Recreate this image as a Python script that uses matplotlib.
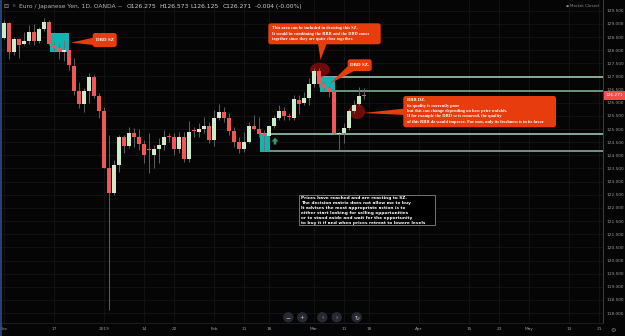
import numpy as np
import matplotlib.pyplot as plt
from matplotlib.patches import Rectangle, FancyBboxPatch, Polygon, Ellipse, Circle

BG = "#050505"
GREEN = "#cdebc8"
RED = "#f05858"
WICK = "#6e6e6e"
CYAN = "#12b3b1"
CALLOUT = "#e63c0e"
GRID = "#141414"
AXIS_TXT = "#9b9b9b"

# EUR/JPY daily, OANDA (Dec 3 2018 .. Mar 15 2019)
opens = [128.48, 129.04, 127.94, 128.42, 128.22, 128.35, 128.70, 128.35, 128.80, 129.07,
         128.20, 128.07, 127.92, 127.99, 127.41, 126.46, 125.95, 126.46, 126.97, 126.26,
         125.69, 123.53, 122.58, 123.63, 124.71, 124.37, 124.84, 124.69, 124.43, 124.21,
         124.01, 124.24, 124.39, 124.72, 124.69, 124.24, 124.71, 123.86, 124.94, 124.90,
         125.00, 125.13, 124.58, 125.43, 125.63, 125.41, 124.93, 124.51, 124.24, 124.51,
         125.12, 125.00, 124.81, 124.75, 125.10, 125.41, 125.68, 125.50, 125.43, 126.10,
         125.98, 126.19, 126.71, 127.22, 126.71, 126.55, 126.42, 124.83, 124.84, 125.05,
         125.70, 125.95, 126.275]
highs = [129.15, 129.07, 128.51, 128.45, 128.70, 128.96, 128.99, 128.89, 129.22, 129.15,
         128.32, 128.22, 128.39, 128.00, 127.71, 126.78, 126.55, 127.12, 127.06, 126.36,
         125.85, 124.77, 123.82, 124.77, 124.77, 125.09, 125.03, 124.99, 124.58, 124.86,
         124.39, 124.65, 124.96, 124.85, 124.84, 124.90, 124.90, 125.32, 125.09, 125.24,
         125.47, 125.28, 125.72, 125.95, 125.85, 125.60, 125.09, 124.71, 124.90, 125.28,
         125.53, 125.45, 124.96, 125.15, 125.55, 125.93, 125.85, 125.60, 126.30, 126.30,
         126.40, 126.93, 127.31, 127.31, 126.80, 126.61, 126.49, 124.90, 125.22, 125.75,
         126.10, 126.61, 126.573]
lows = [128.42, 127.65, 127.82, 127.71, 128.20, 128.22, 128.20, 128.26, 128.73, 128.20,
        127.94, 127.66, 127.59, 127.25, 126.30, 125.81, 125.66, 126.00, 126.19, 125.41,
        123.51, 118.12, 122.49, 123.38, 124.08, 124.27, 124.33, 124.20, 123.72, 123.34,
        123.51, 123.70, 124.20, 124.52, 124.01, 124.08, 123.76, 123.76, 124.71, 124.69,
        124.84, 124.46, 124.36, 125.34, 125.28, 124.77, 124.33, 124.10, 124.14, 124.46,
        124.96, 124.71, 124.17, 124.71, 125.04, 125.34, 125.34, 125.34, 125.34, 125.56,
        125.91, 125.91, 126.61, 126.61, 126.42, 126.23, 124.81, 124.20, 124.46, 124.96,
        125.60, 125.91, 126.125]
closes = [129.04, 127.94, 128.42, 128.20, 128.35, 128.70, 128.35, 128.80, 129.07, 128.22,
          128.07, 127.92, 127.99, 127.44, 126.46, 125.95, 126.46, 126.97, 126.26, 125.69,
          123.53, 122.58, 123.63, 124.71, 124.37, 124.84, 124.71, 124.43, 124.01, 124.19,
          124.23, 124.39, 124.71, 124.70, 124.24, 124.71, 123.86, 124.90, 124.91, 125.00,
          125.13, 124.58, 125.43, 125.63, 125.42, 124.93, 124.51, 124.24, 124.51, 125.12,
          125.00, 124.81, 124.75, 125.10, 125.41, 125.68, 125.50, 125.45, 126.13, 125.95,
          126.19, 126.70, 127.22, 126.71, 126.55, 126.42, 124.84, 124.86, 125.05, 125.70,
          125.91, 126.26, 126.271]

date_ticks = [0, 10, 20, 28, 34, 42, 48, 53, 62, 68, 73, 83, 93, 99, 105, 113, 119]
date_labels = ["Dec", "17", "2019", "14", "22", "Feb", "11", "18", "Mar", "11", "18",
               "Apr", "15", "23", "May", "13", "21"]
price_ticks = np.arange(118.0, 129.51, 0.5)

# supply / demand zones: (first bar, last bar, top, bottom)
dbd_dec = (9.2, 13.06, 128.64, 127.94)
dbd_mar = (63.2, 66.2, 126.968, 126.458)
rbr_feb = (51.1, 53.2, 124.83, 124.155)
last_price = 126.271

o, h, l, c = map(np.array, (opens, highs, lows, closes))
idx = np.arange(len(o))

fig = plt.figure(figsize=(6.25, 3.36), dpi=100, facecolor=BG)
ax = fig.add_axes([0, 13 / 336, 603 / 625, 323 / 336])
ax.set_facecolor(BG)
ax.set_xlim(-0.8, 119.8)
ax.set_ylim(117.625, 129.907)

for p in price_ticks:
    ax.axhline(p, color=GRID, lw=0.6, zorder=0)
for d in date_ticks:
    ax.axvline(d, color=GRID, lw=0.6, zorder=0)

# zones
for x0, x1, top, bot in (dbd_mar, rbr_feb):
    ax.hlines([top], x0, 119.8, color="#a9d6c0", lw=1.1, zorder=1)
    ax.hlines([bot], x0, 119.8, color="#6f9483", lw=1.4, zorder=1)
for x0, x1, top, bot in (dbd_dec, dbd_mar, rbr_feb):
    ax.add_patch(Rectangle((x0, bot), x1 - x0, top - bot, fc=CYAN, ec="none", zorder=1.5))

ax.add_patch(Ellipse((63.2, 127.257), 4.0, 0.53, fc="#6e0b0b", ec="none", zorder=1.6))
ax.add_patch(Ellipse((70.6, 125.667), 3.3, 0.57, fc="#6e0b0b", ec="none", zorder=1.6))

# candles
up = c >= o
ax.vlines(idx, l, h, color=WICK, lw=0.6, zorder=2)
ax.bar(idx, np.maximum(np.abs(c - o), 0.035), bottom=np.minimum(o, c), width=0.64,
       color=np.where(up, GREEN, RED), linewidth=0, zorder=3)

ax.yaxis.tick_right()
ax.set_yticks(price_ticks)
ax.set_yticklabels([f"{p:.3f}" for p in price_ticks])
ax.set_xticks(date_ticks)
ax.set_xticklabels(date_labels)
ax.tick_params(axis="both", length=0, labelsize=3.1, colors=AXIS_TXT)
ax.tick_params(axis="y", pad=2.5)
ax.tick_params(axis="x", pad=3)
for s in ("top", "left"):
    ax.spines[s].set_visible(False)
ax.spines["right"].set_color("#3a3e48")
ax.spines["bottom"].set_color("#1f2128")
ax.spines["right"].set_linewidth(0.7)
ax.spines["bottom"].set_linewidth(0.6)

# overlay in pixel units for drawings / UI
ov = fig.add_axes([0, 0, 1, 1], zorder=5)
ov.set_xlim(0, 625)
ov.set_ylim(336, 0)
ov.axis("off")
ov.patch.set_alpha(0)

ov.plot([0.6, 0.6], [0, 336], color="#2a4f85", lw=1.2)

serif = dict(family="Liberation Serif", weight="bold", color="white")


def callout(x0, y0, x1, y1, tail):
    ov.add_patch(FancyBboxPatch((x0, y0), x1 - x0, y1 - y0,
                                boxstyle="round,pad=0,rounding_size=2.5",
                                fc=CALLOUT, ec="none"))
    ov.add_patch(Polygon(tail, closed=True, fc=CALLOUT, ec="none"))


callout(92.7, 33, 116.7, 47, [(94, 37.5), (94, 45), (71, 42.7)])
ov.text(104.7, 40.3, "DBD SZ", fontsize=3.6, ha="center", va="center", **serif)

callout(268.3, 23.3, 380.7, 44.3, [(318, 43), (327, 43), (320.5, 60)])
for k, s in enumerate(["This area can be included in drawing this SZ.",
                       "It would be combining the RBR and the DBD zones",
                       "together since they are quite close together."]):
    ov.text(272, 28.3 + 5.5 * k, s, fontsize=3.15, va="center", **serif)

callout(347.7, 59.3, 371.7, 71, [(349, 65), (355, 70.5), (330, 83.5)])
ov.text(359.7, 65.3, "DBD SZ.", fontsize=3.6, ha="center", va="center", **serif)

callout(403.3, 96, 556, 127.3, [(405, 108.5), (405, 115), (363, 113)])
for k, s in enumerate(["RBR DZ.",
                       "its quality is currently poor",
                       "but this can change depending on how price unfolds.",
                       "If for example the DBD sz is removed, the quality",
                       "of this RBR dz would improve. For now, only its freshness is in its favor"]):
    ov.text(407, 100.3 + 5.3 * k, s, fontsize=3.25, va="center", **serif)

ov.add_patch(Rectangle((299.3, 195), 135.7, 30, fc="black", ec="#a0a0a0", lw=0.5))
for k, s in enumerate(["Prices have reached and are reacting to SZ.",
                       "The decision matrix does not allow me to buy",
                       "It advises the most appropriate action is to",
                       "either start looking for selling opportunities",
                       "or to stand aside and wait for the opportunity",
                       "to buy it if and when prices retreat to lowere levels"]):
    ov.text(301, 198.5 + 4.9 * k, s, fontsize=3.1, va="center", color="white",
            family="DejaVu Sans", weight="bold")

# green arrow marker
ov.add_patch(Polygon([(271.5, 141.5), (275, 137.5), (278.5, 141.5), (276.3, 141.5),
                      (276.3, 144.5), (273.7, 144.5), (273.7, 141.5)],
                     closed=True, fc="#2f9a68", ec="none"))

# header
ov.text(3, 6.3, "⊟", fontsize=4.3, color="#9a9a9a", va="center")
ov.text(12.5, 6.3, "IE", fontsize=3.2, color="#5f7fb5", va="center")
ov.text(19, 6.3, "Euro / Japanese Yen, 1D, OANDA ~", fontsize=4.3, color="#b5b5b5", va="center")
for x, s in [(126.7, "O126.275"), (159.3, "H126.573"), (190.7, "L126.125"),
             (222.7, "C126.271"), (255, "-0.004 (-0.00%)")]:
    ov.text(x, 6.3, s, fontsize=4.3, color="#cfcfcf", va="center")
ov.text(566, 6.3, "●", fontsize=2.5, color="#8a8a8a", va="center")
ov.text(570, 6.3, "Market Closed", fontsize=2.9, color="#8a8a8a", va="center")

# last price tag
ov.add_patch(Rectangle((603.5, 91.3), 21.5, 8.2, fc="#ef4f4f", ec="none"))
ov.text(614.2, 95.5, f"{last_price:.3f}", fontsize=3.1, color="white", ha="center", va="center")

# navigation buttons
for x, s in [(288.3, "−"), (302.3, "+"), (322.3, "‹"), (336.7, "›"), (356.7, "↻")]:
    ov.add_patch(Circle((x, 317.3), 5.2, fc="#262931", ec="none"))
    ov.text(x, 317.5, s, fontsize=4.2, color="#c8c8c8", ha="center", va="center")

ov.text(613.5, 330, "⚙", fontsize=4.5, color="#8a8a8a", ha="center", va="center")

fig.savefig("out.png", dpi=100, facecolor=BG)
